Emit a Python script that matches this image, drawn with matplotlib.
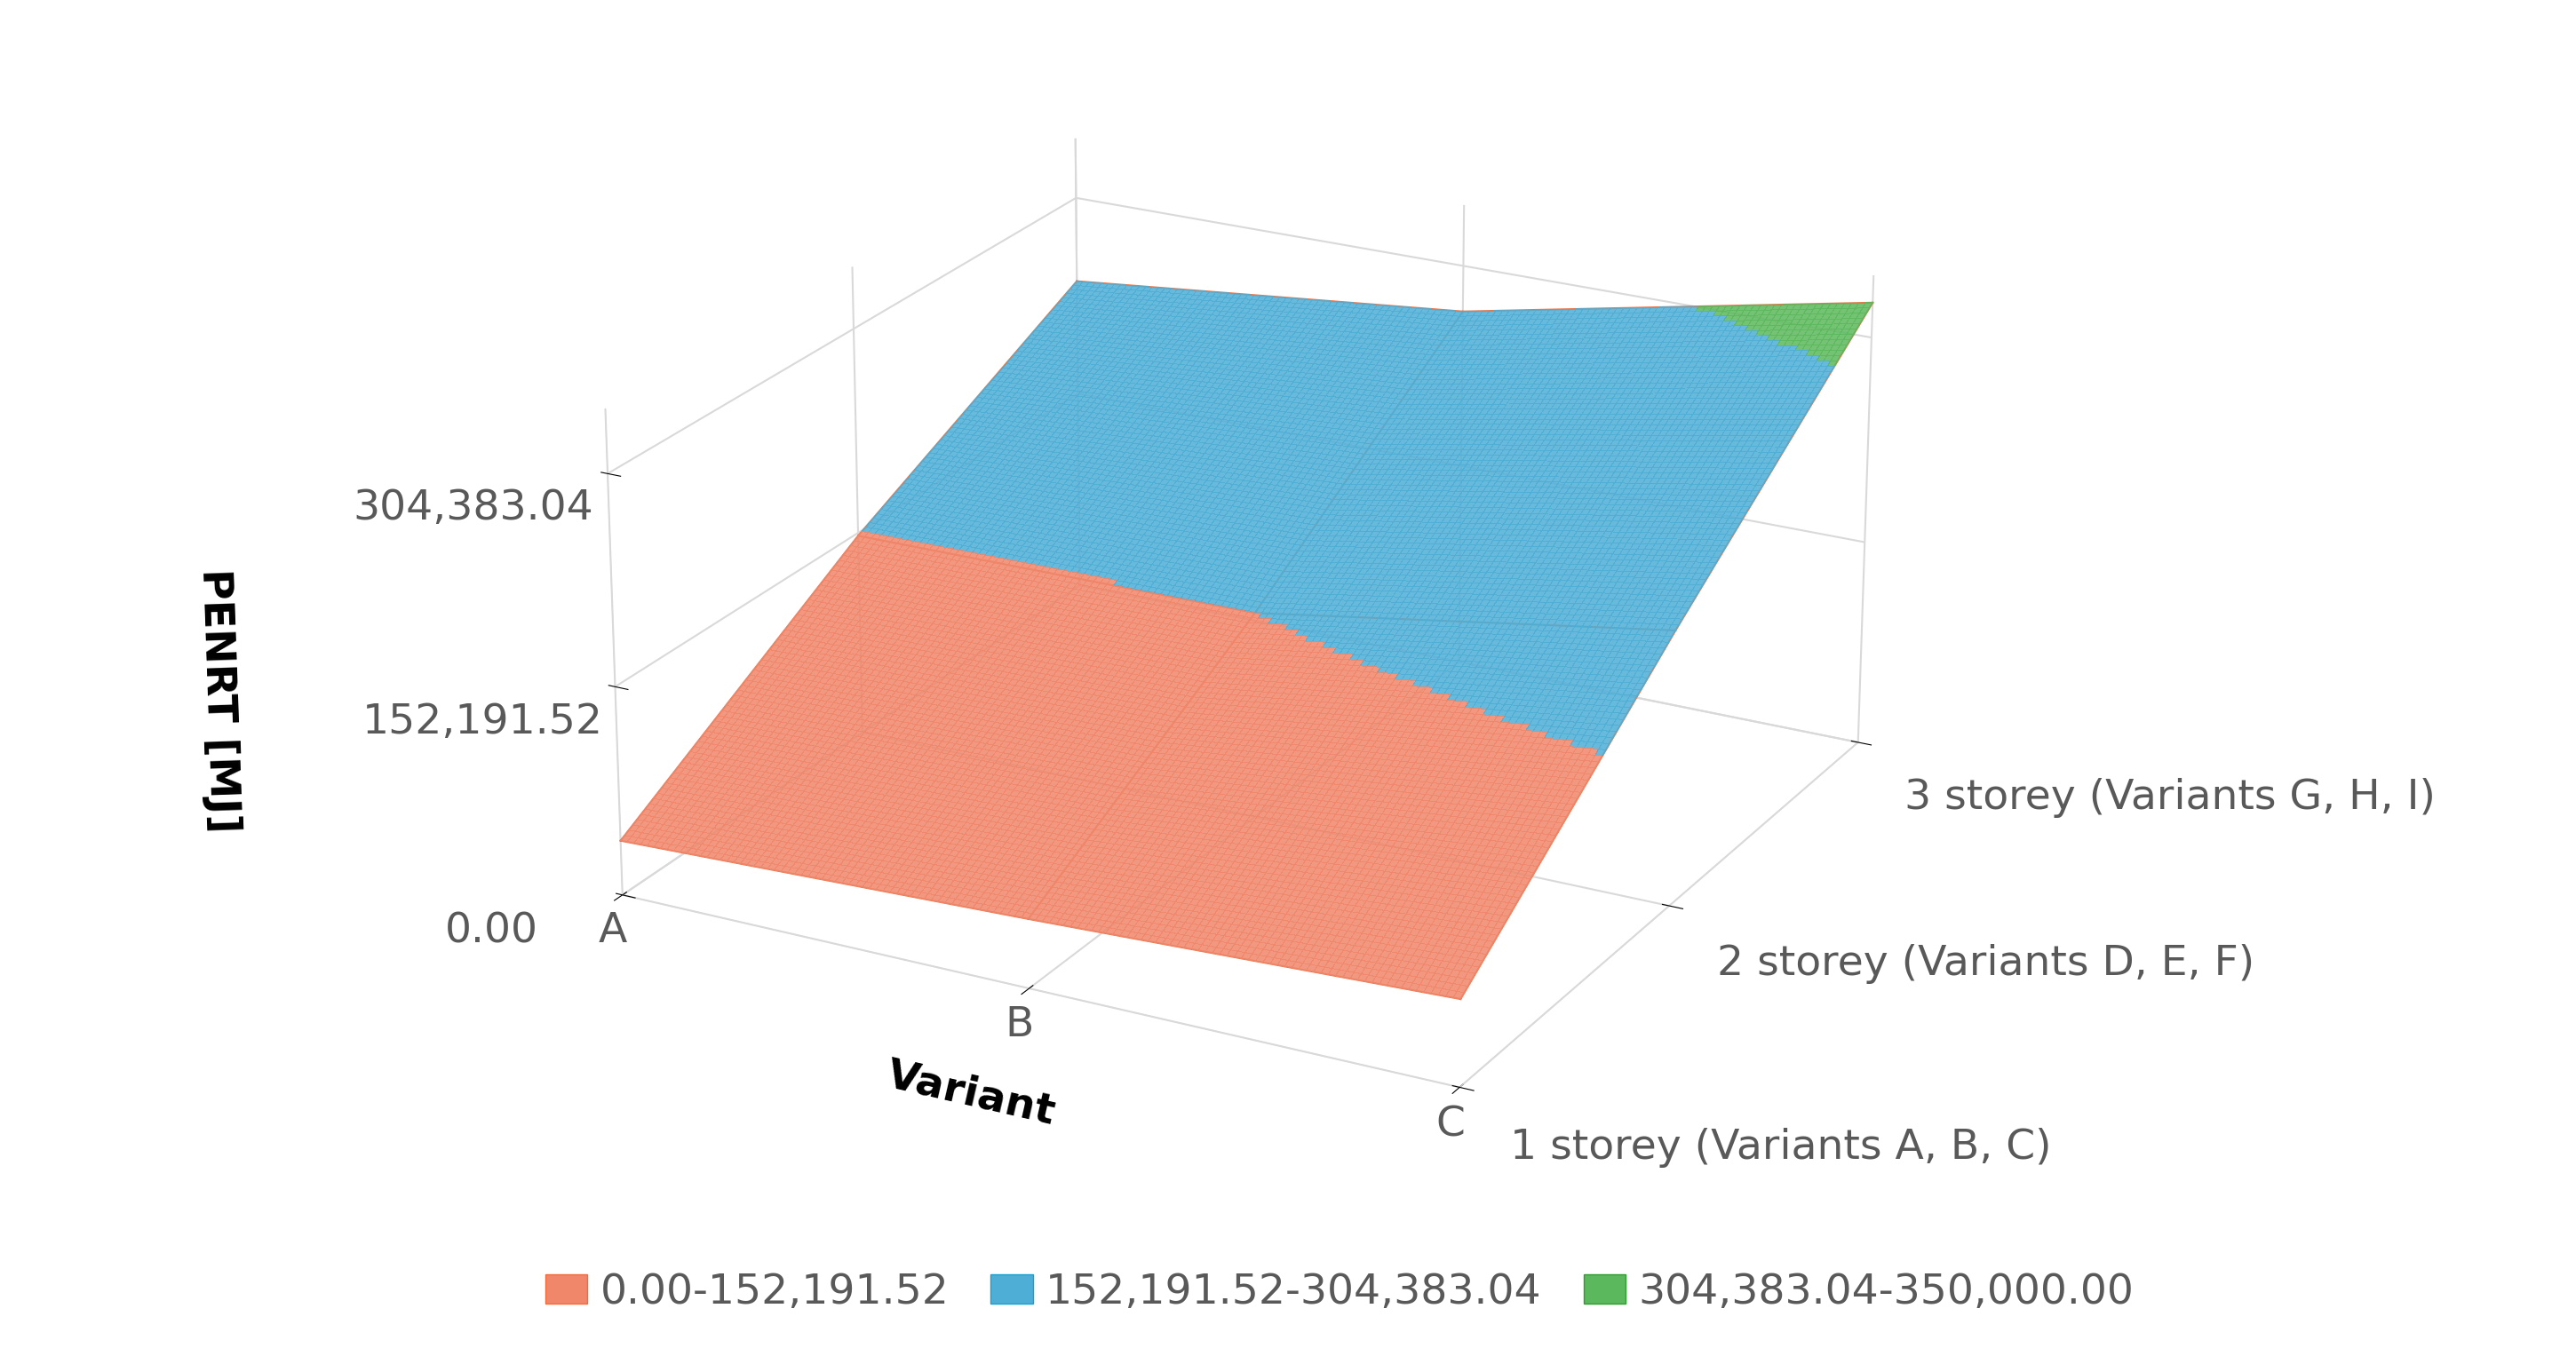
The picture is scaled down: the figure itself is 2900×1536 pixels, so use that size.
import numpy as np
import matplotlib.pyplot as plt
from matplotlib.colors import ListedColormap, BoundaryNorm
from matplotlib.patches import Patch

variants = ['A', 'B', 'C']
storeys = ['1 storey (Variants A, B, C)', '2 storey (Variants D, E, F)', '3 storey (Variants G, H, I)']
# PENRT [MJ] per storey row, per variant column
penrt_1 = [40000, 50000, 62000]
penrt_2 = [150000, 152000, 200000]
penrt_3 = [240000, 270000, 330000]
bands = [0.0, 152191.52, 304383.04, 350000.0]
band_labels = ['0.00-152,191.52', '152,191.52-304,383.04', '304,383.04-350,000.00']
band_colors = ['#f0866a', '#4eaed6', '#5cb85c']
edge_colors = ['#f26b3a', '#1aa0d0', '#2e9e2e']

Z = np.array([penrt_1, penrt_2, penrt_3], dtype=float)

# bilinear refinement for smooth band colouring
n = 121
u = np.linspace(0, 2, n)
X, Y = np.meshgrid(u, u)
def bilin(Z, x, y):
    i = np.clip(np.floor(x).astype(int), 0, 1)
    j = np.clip(np.floor(y).astype(int), 0, 1)
    fx, fy = x - i, y - j
    return (Z[j, i] * (1 - fx) * (1 - fy) + Z[j, i + 1] * fx * (1 - fy)
            + Z[j + 1, i] * (1 - fx) * fy + Z[j + 1, i + 1] * fx * fy)
ZZ = bilin(Z, X, Y)

fig = plt.figure(figsize=(29, 15.36), dpi=100)
ax = fig.add_axes([-0.02, 0.06, 1.0, 1.0], projection='3d')
cmap = ListedColormap(band_colors)
norm = BoundaryNorm(bands, cmap.N)
ax.plot_surface(X, Y, ZZ, cmap=cmap, norm=norm, linewidth=0, edgecolor='none',
                antialiased=False, alpha=0.85, shade=False, rstride=1, cstride=1)
# grid lines of the surface
for k in range(3):
    ax.plot(u, np.full(n, k), bilin(Z, u, np.full(n, float(k))), color='#e9754a', lw=1.5)
    ax.plot(np.full(n, k), u, bilin(Z, np.full(n, float(k)), u), color='#e9754a', lw=1.5)

ax.set_xlim(0, 2)
ax.set_ylim(0, 2)
ax.set_zlim(0, 350000)
ax.set_xticks(range(3))
ax.set_xticklabels(variants, fontsize=34, color='#595959')
ax.set_yticks(range(3))
ax.set_yticklabels(storeys, fontsize=34, color='#595959', ha='left')
ax.set_zticks(bands[:3])
ax.set_zticklabels(['0.00', '152,191.52', '304,383.04'], fontsize=34, color='#595959')
ax.set_xlabel('Variant', fontsize=34, fontweight='bold', labelpad=50)
ax.set_zlabel('PENRT [MJ]', fontsize=34, fontweight='bold', labelpad=150)
ax.zaxis._axinfo['juggled'] = (1, 2, 0)
for a in (ax.xaxis, ax.yaxis, ax.zaxis):
    a.set_pane_color((1, 1, 1, 0))
    a.line.set_color('#d9d9d9')
    a._axinfo['grid']['color'] = '#d9d9d9'
    a._axinfo['grid']['linewidth'] = 1.5
ax.tick_params(axis='y', pad=25)
ax.tick_params(axis='z', pad=50)
ax.view_init(elev=22, azim=-62)
ax.set_box_aspect((1.8, 1.8, 1.0))

handles = [Patch(facecolor=c, edgecolor=e, label=l) for c, e, l in zip(band_colors, edge_colors, band_labels)]
fig.legend(handles=handles, loc='lower center', ncol=3, frameon=False, fontsize=34,
           labelcolor='#595959', handlelength=1, handletextpad=0.3, columnspacing=1,
           bbox_to_anchor=(0.52, 0.01))
fig.savefig('out.png', dpi=100)
